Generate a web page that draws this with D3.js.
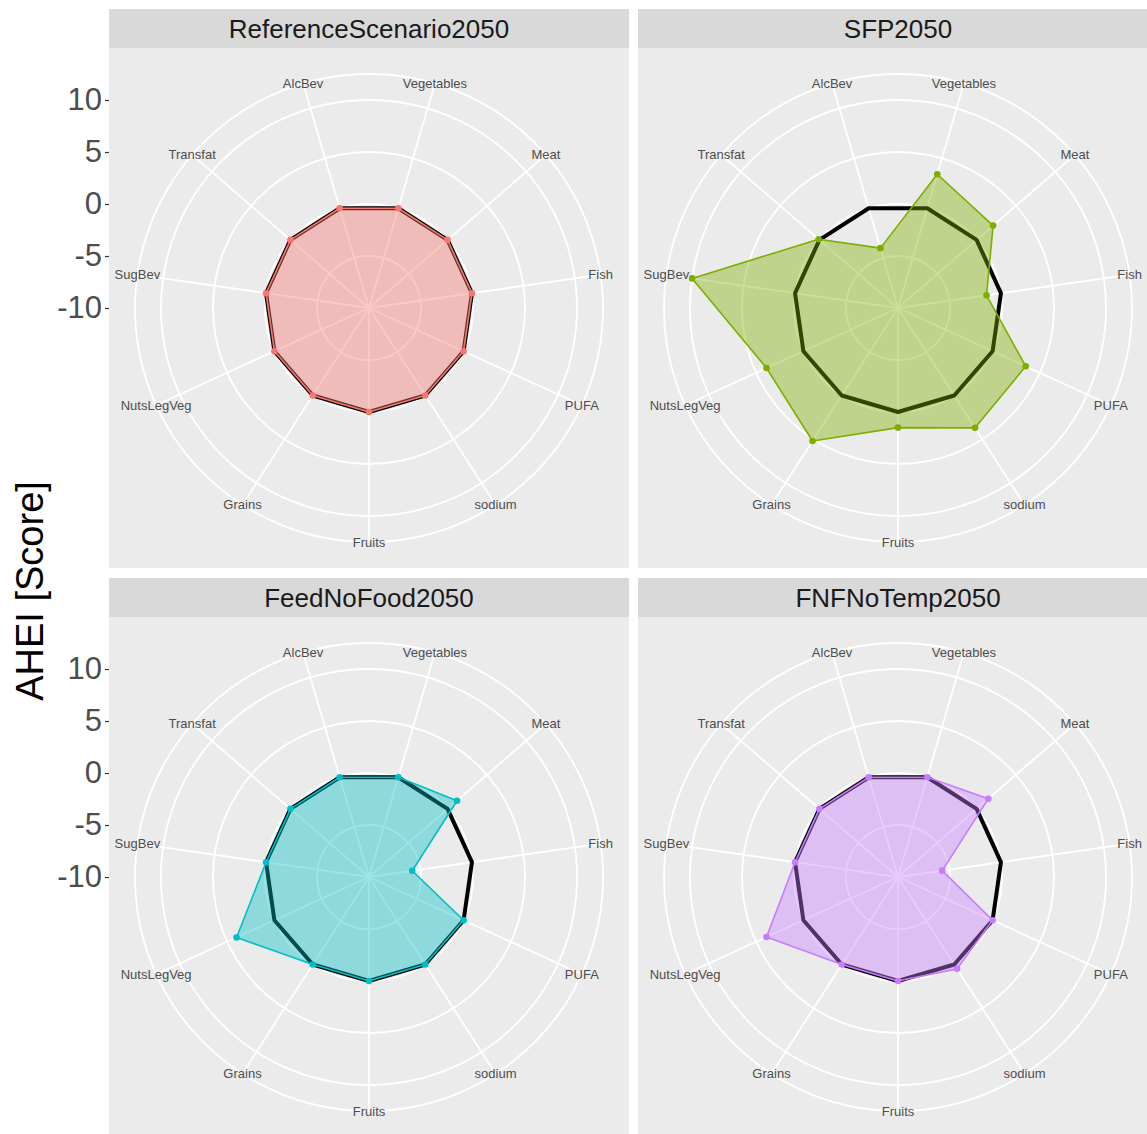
<!DOCTYPE html>
<html>
<head>
<meta charset="utf-8">
<script src="https://cdn.jsdelivr.net/npm/d3@7"></script>
<style>
  html, body { margin: 0; padding: 0; background: #ffffff; }
  svg { display: block; font-family: "Liberation Sans", Arial, sans-serif; }
</style>
</head>
<body>
<svg id="chart" width="1147" height="1134"></svg>
<script>
// ---------------- data ----------------
const categories = ["Vegetables", "Meat", "Fish", "PUFA", "sodium", "Fruits",
                    "Grains", "NutsLegVeg", "SugBev", "Transfat", "AlcBev"];

const scenarios = ["ReferenceScenario2050", "SFP2050", "FeedNoFood2050", "FNFNoTemp2050"];

const referenceValues  = [0, 0, 0, 0, 0, 0, 0, 0, 0, 0, 0];
const sfpValues        = [3.4, 2.1, -1.4, 3.5, 3.7, 1.5, 5.2, 3.9, 10, 0.1, -4.0];
const feedNoFoodValues = [0, 1.2, -5.8, 0, 0, 0, 0, 4.0, 0, 0, 0];
const fnfNoTempValues  = [0, 1.5, -5.7, 0, 0.5, 0, 0, 3.9, 0, 0, 0];

const scenarioValues = [referenceValues, sfpValues, feedNoFoodValues, fnfNoTempValues];
const scenarioColors = ["#F8766D", "#7CAE00", "#00BFC4", "#C77CFF"];

const yTicks = [-10, -5, 0, 5, 10];
const yTickLabels = ["-10", "-5", "0", "5", "10"];
const yLimits = [-10, 10];
const axisTitle = "AHEI [Score]";

// ---------------- layout ----------------
const svg = d3.select("#chart");
const panelSize = 520;
const stripH = 39;
const colX = [109, 638];
const rowStripY = [9, 578];
const rInner = 0.4 * panelSize;   // data range
const rOuter = 0.45 * panelSize;  // outer ring / labels

const rScale = d3.scaleLinear().domain(yLimits).range([0, rInner]);
const angle = d3.scaleBand().domain(categories).range([0, 2 * Math.PI]).paddingInner(0).paddingOuter(0);
const ang = c => angle(c) + angle.bandwidth() / 2;

const greyText = "#4D4D4D";

scenarios.forEach((name, i) => {
  const col = i % 2, row = Math.floor(i / 2);
  const x0 = colX[col];
  const sy = rowStripY[row];
  const py = sy + stripH;
  const cx = x0 + panelSize / 2, cy = py + panelSize / 2;

  // strip
  svg.append("rect").attr("x", x0).attr("y", sy).attr("width", panelSize).attr("height", stripH)
    .attr("fill", "#D9D9D9");
  svg.append("text").attr("x", cx).attr("y", sy + stripH / 2)
    .attr("text-anchor", "middle").attr("dominant-baseline", "central")
    .attr("font-size", 26).attr("fill", "#1A1A1A").text(name);

  // panel background
  svg.append("rect").attr("x", x0).attr("y", py).attr("width", panelSize).attr("height", panelSize)
    .attr("fill", "#EBEBEB");

  const g = svg.append("g").attr("transform", `translate(${cx},${cy})`);

  // spokes
  g.selectAll("line.spoke").data(categories).join("line")
    .attr("x1", 0).attr("y1", 0)
    .attr("x2", c => rOuter * Math.sin(ang(c)))
    .attr("y2", c => -rOuter * Math.cos(ang(c)))
    .attr("stroke", "#FFFFFF").attr("stroke-width", 1.8);

  // circles
  const ringR = yTicks.map(v => rScale(v)).concat([rOuter]);
  g.selectAll("circle.ring").data(ringR).join("circle")
    .attr("r", d => d).attr("fill", "none")
    .attr("stroke", "#FFFFFF").attr("stroke-width", 1.8);

  // category labels
  g.selectAll("text.cat").data(categories).join("text")
    .attr("x", c => rOuter * Math.sin(ang(c)))
    .attr("y", c => -rOuter * Math.cos(ang(c)))
    .attr("text-anchor", "middle").attr("dominant-baseline", "central")
    .attr("font-size", 13).attr("fill", greyText).text(c => c);

  const radial = d3.lineRadial()
    .angle((d, k) => ang(categories[k]))
    .radius(d => rScale(d))
    .curve(d3.curveLinearClosed);

  // reference black outline (drawn under fill)
  g.append("path").attr("d", radial(referenceValues))
    .attr("fill", "none").attr("stroke", "#000000").attr("stroke-width", 4)
    .attr("stroke-linejoin", "round");

  const vals = scenarioValues[i];
  const color = scenarioColors[i];
  g.append("path").attr("d", radial(vals))
    .attr("fill", color).attr("fill-opacity", 0.4)
    .attr("stroke", color).attr("stroke-width", 1.6).attr("stroke-linejoin", "round");

  g.selectAll("circle.pt").data(vals).join("circle")
    .attr("cx", (d, k) => rScale(d) * Math.sin(ang(categories[k])))
    .attr("cy", (d, k) => -rScale(d) * Math.cos(ang(categories[k])))
    .attr("r", 3.3).attr("fill", color);

  // y axis (only left column)
  if (col === 0) {
    const yScale = d3.scaleLinear().domain(yLimits).range([cy, cy - rInner]);
    const ax = svg.append("g").attr("transform", `translate(${x0},0)`)
      .call(d3.axisLeft(yScale).tickValues(yTicks).tickSize(4).tickPadding(3)
        .tickFormat((d, k) => yTickLabels[k]));
    ax.select(".domain").remove();
    ax.selectAll(".tick line").attr("stroke", "#333333").attr("stroke-width", 1.2);
    ax.selectAll(".tick text").attr("font-size", 31).attr("fill", greyText)
      .attr("font-family", "Liberation Sans, Arial, sans-serif");
  }
});

// axis title
svg.append("text")
  .attr("transform", `translate(30,591) rotate(-90)`)
  .attr("text-anchor", "middle").attr("dominant-baseline", "central")
  .attr("font-size", 38).attr("fill", "#000000").text(axisTitle);
</script>
</body>
</html>
